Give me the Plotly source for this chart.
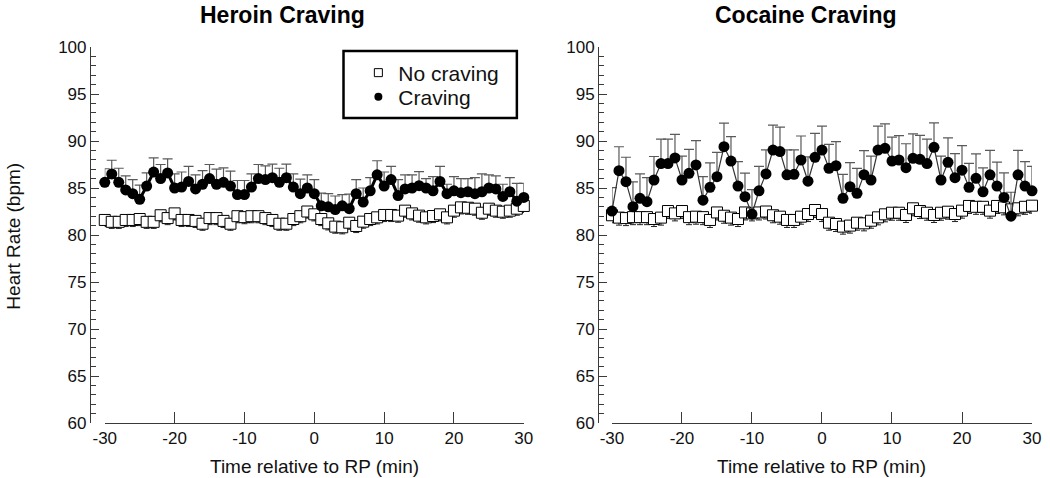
import plotly.graph_objects as go

# ---------------- data ----------------
time_min = list(range(-30, 31))

heroin_craving = [85.6, 86.5, 85.6, 84.8, 84.4, 83.8, 85.2, 86.7, 86.0, 86.6,
                  85.0, 85.1, 85.7, 84.9, 85.4, 86.0, 85.4, 85.6, 85.2, 84.3,
                  84.3, 85.1, 86.0, 85.9, 86.1, 85.6, 86.1, 85.1, 84.4, 85.0,
                  84.4, 83.1, 83.0, 82.7, 83.1, 82.8, 84.4, 83.5, 84.7, 86.4,
                  85.2, 85.9, 84.2, 84.9, 85.0, 85.25, 85.0, 84.7, 85.7, 84.4,
                  84.7, 84.5, 84.6, 84.4, 84.6, 85.0, 84.9, 84.1, 84.6, 83.6,
                  84.0]
heroin_craving_se = [1.45, 1.45, 1.5, 1.5, 1.5, 1.5, 1.4, 1.5, 1.5, 1.5,
                     1.5, 1.6, 1.6, 1.5, 1.45, 1.5, 1.6, 1.55, 1.6, 1.5,
                     1.5, 1.4, 1.5, 1.45, 1.45, 1.5, 1.45, 1.4, 1.55, 1.4,
                     1.5, 1.35, 1.4, 1.45, 1.2, 1.55, 1.5, 1.5, 1.4, 1.5,
                     1.5, 1.4, 1.7, 1.5, 1.4, 1.5, 1.0, 1.5, 1.6, 1.0,
                     1.5, 1.5, 1.4, 1.7, 1.9, 1.4, 1.4, 1.3, 1.5, 1.9,
                     1.5]
heroin_nocrav = [81.6, 81.4, 81.4, 81.6, 81.6, 81.7, 81.4, 81.4, 82.1, 81.8,
                 82.3, 81.6, 81.6, 81.5, 81.2, 81.8, 81.8, 81.5, 81.2, 82.0,
                 81.9, 82.0, 82.0, 81.8, 81.6, 81.2, 81.2, 81.7, 82.0, 82.5,
                 82.2, 81.7, 81.24, 80.89, 80.82, 81.31, 80.96, 81.42, 81.7, 81.88,
                 82.13, 82.13, 82.06, 82.59, 82.3, 82.06, 81.88, 82.02, 82.2, 81.88,
                 82.59, 82.94, 82.9, 82.8, 82.37, 82.8, 82.59, 82.48, 82.59, 82.8,
                 83.09]
heroin_nocrav_se = [0.7] * 61

cocaine_craving = [82.55, 86.84, 85.67, 83.01, 83.9, 83.55, 85.85, 87.6, 87.6, 88.2,
                   85.85, 86.56, 87.45, 83.7, 85.07, 86.2, 89.4, 87.87, 85.2, 84.08,
                   82.23, 84.7, 86.5, 89.04, 88.87, 86.4, 86.46, 87.98, 85.72, 88.26,
                   89.04, 87.1, 87.38, 83.9, 85.14, 84.43, 86.42, 85.85, 89.04, 89.22,
                   87.87, 87.98, 87.16, 88.16, 88.05, 87.6, 89.33, 85.85, 87.73, 86.1,
                   86.9, 85.07, 86.03, 84.6, 86.4, 85.2, 84.0, 82.0, 86.4, 85.2,
                   84.7]
cocaine_craving_se = [2.5, 2.55, 2.6, 2.65, 2.6, 2.55, 2.5, 2.6, 2.6, 2.5,
                      2.55, 2.55, 2.6, 2.5, 2.6, 2.6, 2.5, 2.6, 2.6, 2.5,
                      2.6, 2.6, 2.55, 2.65, 2.6, 2.65, 2.6, 2.55, 2.6, 2.55,
                      2.55, 2.55, 2.55, 2.55, 2.55, 2.65, 2.55, 2.55, 2.55, 2.6,
                      2.55, 2.6, 2.55, 2.6, 2.55, 2.6, 2.6, 2.55, 2.6, 2.55,
                      2.6, 2.55, 2.6, 2.55, 2.6, 2.55, 2.6, 2.55, 2.6, 2.6,
                      2.6]
cocaine_nocrav = [82.1, 81.85, 81.8, 81.9, 81.9, 81.9, 81.7, 81.85, 82.55, 82.3,
                  82.55, 81.9, 81.95, 81.9, 81.6, 82.4, 82.05, 81.85, 81.7, 82.4,
                  82.3, 82.4, 82.5, 82.1, 81.95, 81.6, 81.6, 81.95, 82.23, 82.66,
                  82.23, 81.31, 81.17, 80.89, 81.0, 81.31, 81.24, 81.52, 81.88, 82.2,
                  82.37, 82.37, 82.13, 82.84, 82.55, 82.37, 82.13, 82.37, 82.48, 82.23,
                  82.59, 83.09, 83.0, 83.0, 82.59, 83.09, 82.94, 82.73, 82.84, 83.0,
                  83.12]
cocaine_nocrav_se = [0.8] * 61

panel_titles = ["Heroin Craving", "Cocaine Craving"]
x_title = "Time relative to RP (min)"
y_title = "Heart Rate (bpm)"
legend_labels = ["No craving", "Craving"]
x_ticks = [-30, -20, -10, 0, 10, 20, 30]
x_tick_text = ["-30", "-20", "-10", "0", "10", "20", "30"]
y_ticks = [60, 65, 70, 75, 80, 85, 90, 95, 100]

# ---------------- layout geometry ----------------
W, H = 1050, 478
ML, MR, MT, MB = 80, 8, 47, 55
PW = W - ML - MR
PH = H - MT - MB


def px_x(p):
    return (p - ML) / PW


def px_y(p):
    return (H - MB - p) / PH


FONT = "Arial, Liberation Sans, sans-serif"
AX = "#3a3a3a"
ERR = "#5a5a5a"

fig = go.Figure()


def add_panel(xa, ya, nocrav, nocrav_se, crav, crav_se, line_w, line_col):
    fig.add_trace(go.Scatter(
        x=time_min, y=nocrav, xaxis=xa, yaxis=ya, mode="markers",
        marker=dict(symbol="square", size=11, color="white",
                    line=dict(color="black", width=1)),
        error_y=dict(type="data", symmetric=False, array=[0] * len(nocrav),
                     arrayminus=nocrav_se, color="#222", thickness=1, width=3),
        cliponaxis=False, showlegend=False, hoverinfo="skip"))
    fig.add_trace(go.Scatter(
        x=time_min, y=crav, xaxis=xa, yaxis=ya, mode="lines+markers",
        line=dict(color=line_col, width=line_w),
        marker=dict(symbol="circle", size=11, color="black",
                    line=dict(color="black", width=0)),
        error_y=dict(type="data", symmetric=False, array=crav_se,
                     arrayminus=[0] * len(crav), color=ERR, thickness=1.2, width=5),
        cliponaxis=False, showlegend=False, hoverinfo="skip"))


add_panel("x", "y", heroin_nocrav, heroin_nocrav_se, heroin_craving,
          heroin_craving_se, 3, "black")
add_panel("x2", "y2", cocaine_nocrav, cocaine_nocrav_se, cocaine_craving,
          cocaine_craving_se, 1.2, "#333")

# legend-only traces (one legend each so rows can be placed exactly)
fig.add_trace(go.Scatter(x=[None], y=[None], mode="markers", name=legend_labels[0],
                         legend="legend",
                         marker=dict(symbol="square", size=8, color="white",
                                     line=dict(color="black", width=1))))
fig.add_trace(go.Scatter(x=[None], y=[None], mode="markers", name=legend_labels[1],
                         legend="legend2",
                         marker=dict(symbol="circle", size=8, color="black")))

xax = dict(range=[-30, 30], showline=True, linecolor=AX, linewidth=1,
           ticks="inside", ticklen=11, tickcolor=AX, tickwidth=1,
           tickvals=x_ticks, ticktext=x_tick_text, showgrid=False, zeroline=False,
           tickfont=dict(family=FONT, size=17, color="#111"))
yax = dict(range=[60, 100], showline=True, linecolor=AX, linewidth=1,
           ticks="inside", ticklen=8, tickcolor=AX, tickwidth=1,
           tickvals=y_ticks, showgrid=False, zeroline=False,
           minor=dict(dtick=1, ticks="inside", ticklen=5, tickcolor=AX, showgrid=False),
           tickfont=dict(family=FONT, size=17, color="#111"),
           anchor="free", domain=[0, 1])

leg_common = dict(xanchor="left", yanchor="middle", bgcolor="rgba(0,0,0,0)",
                  borderwidth=0, font=dict(family=FONT, size=21, color="#111"),
                  itemsizing="trace")

fig.update_layout(
    width=W, height=H, margin=dict(l=ML, r=MR, t=MT, b=MB),
    paper_bgcolor="white", plot_bgcolor="white",
    xaxis=dict(xax, domain=[px_x(105), px_x(528)], anchor="y"),
    yaxis=dict(yax, position=px_x(90)),
    xaxis2=dict(xax, domain=[px_x(617), px_x(1041)], anchor="y2"),
    yaxis2=dict(yax, position=px_x(603)),
    legend=dict(leg_common, x=px_x(361), y=px_y(73)),
    legend2=dict(leg_common, x=px_x(361), y=px_y(97)),
    showlegend=True,
)

# legend box
fig.add_shape(type="rect", xref="paper", yref="paper",
              x0=px_x(346), x1=px_x(521), y0=px_y(118), y1=px_y(51),
              line=dict(color="black", width=2.5), fillcolor="rgba(0,0,0,0)")

# titles & axis titles
for cx, title in zip([px_x(284), px_x(813)], panel_titles):
    fig.add_annotation(x=cx, y=px_y(15), xref="paper", yref="paper", text=title,
                       showarrow=False, xanchor="center", yanchor="middle",
                       font=dict(family=FONT, size=23, color="black", weight="bold"))
for cx in [px_x(316.5), px_x(829)]:
    fig.add_annotation(x=cx, y=px_y(466), xref="paper", yref="paper", text=x_title,
                       showarrow=False, xanchor="center", yanchor="middle",
                       font=dict(family=FONT, size=19, color="#111"))
fig.add_annotation(x=px_x(12), y=px_y(236), xref="paper", yref="paper", text=y_title,
                   showarrow=False, textangle=-90, xanchor="center", yanchor="middle",
                   font=dict(family=FONT, size=19, color="#111"))

fig.write_html("out.html", config={"displayModeBar": False},
               post_script="document.body.style.margin='0';document.body.style.padding='0';")
